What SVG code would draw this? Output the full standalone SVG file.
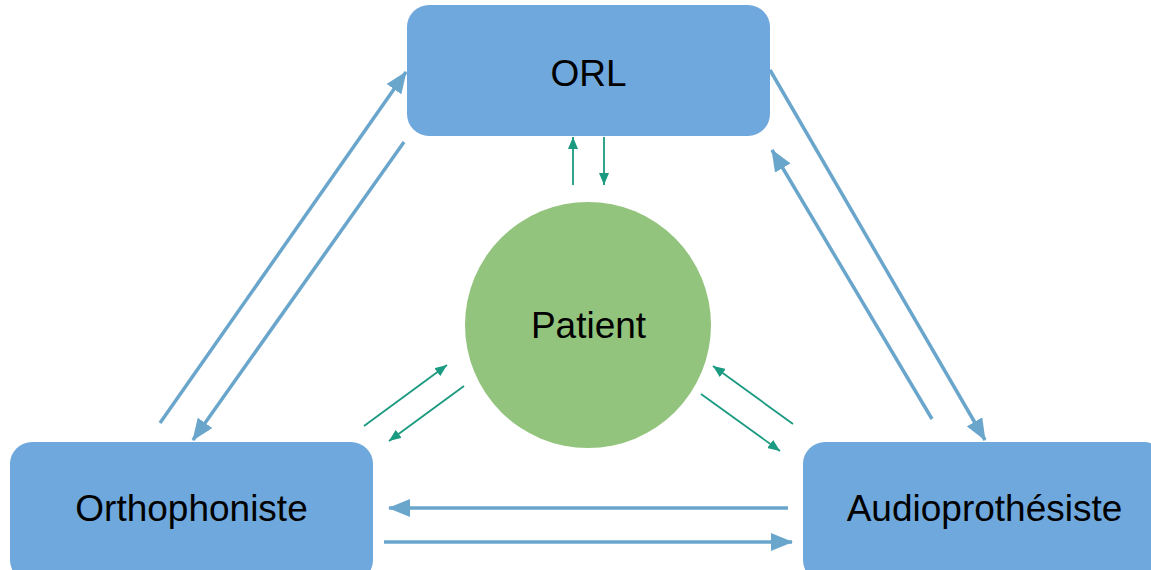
<svg xmlns="http://www.w3.org/2000/svg" width="1151" height="570" viewBox="0 0 1151 570">
<style>
.box{fill:#6FA8DC;}
.lbl{font-family:"Liberation Sans",Arial,sans-serif;font-size:37px;fill:#000;text-anchor:middle;}
.big{stroke:#6AA6CC;stroke-width:3.5;fill:none;marker-end:url(#bh);}
.small{stroke:#1A9A80;stroke-width:1.8;fill:none;marker-end:url(#sh);}
</style>
<defs>
<marker id="bh" markerUnits="userSpaceOnUse" markerWidth="22" markerHeight="18" refX="21" refY="9" orient="auto">
<path d="M0,0 L22,9 L0,18 Z" fill="#6AA6CC"/>
</marker>
<marker id="sh" markerUnits="userSpaceOnUse" markerWidth="12" markerHeight="10" refX="12" refY="5" orient="auto">
<path d="M0,0 L12,5 L0,10 Z" fill="#1A9A80"/>
</marker>
</defs>
<g id="connectors">
<line class="big" x1="160" y1="423" x2="406" y2="72"/>
<line class="big" x1="404" y1="142" x2="193" y2="440"/>
<line class="big" x1="770" y1="70" x2="985" y2="440"/>
<line class="big" x1="932" y1="419" x2="772" y2="150"/>
<line class="big" x1="788" y1="508" x2="389" y2="508"/>
<line class="big" x1="384" y1="542" x2="792" y2="542"/>
<line class="small" x1="573" y1="185" x2="573" y2="137"/>
<line class="small" x1="604" y1="137" x2="604" y2="185"/>
<line class="small" x1="364" y1="426" x2="447" y2="365"/>
<line class="small" x1="464" y1="386" x2="389" y2="441"/>
<line class="small" x1="793" y1="424" x2="713" y2="366"/>
<line class="small" x1="701" y1="394" x2="780" y2="451"/>
</g>
<g id="orl">
<rect class="box" x="407" y="5" width="363" height="131" rx="22"/>
<text class="lbl" x="588.5" y="86">ORL</text>
</g>
<g id="patient">
<circle cx="588" cy="325" r="123" fill="#93C47D"/>
<text class="lbl" x="588.5" y="338">Patient</text>
</g>
<g id="orthophoniste">
<rect class="box" x="10" y="442" width="363" height="140" rx="22"/>
<text class="lbl" x="191.5" y="521">Orthophoniste</text>
</g>
<g id="audioprothesiste">
<rect class="box" x="803" y="442" width="363" height="140" rx="22"/>
<text class="lbl" x="984.5" y="521">Audioprothésiste</text>
</g>
</svg>
